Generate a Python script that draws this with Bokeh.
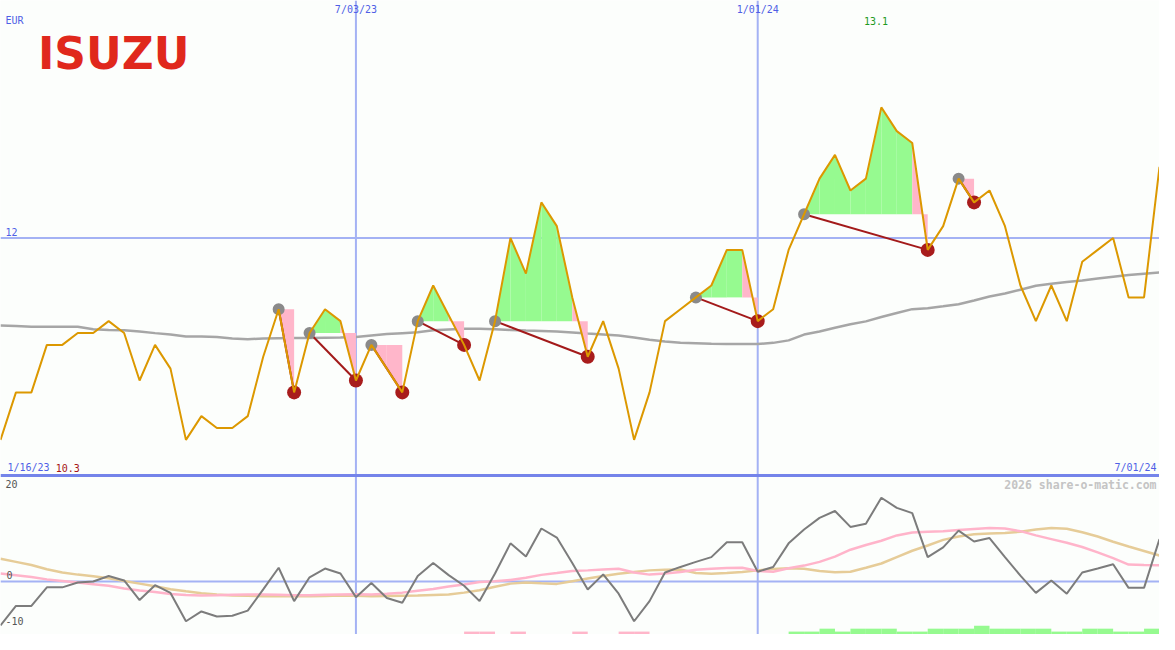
from bokeh.plotting import figure
from bokeh.models import Range1d, Span, Label
from bokeh.embed import file_html
from bokeh.resources import INLINE

# ---------------- data ----------------
weeks = list(range(76))
start_date = "1/16/23"
end_date = "7/01/24"
date_ticks = [23, 49]
date_labels = ["7/03/23", "1/01/24"]
currency = "EUR"
price_ticks = [12]
ind_ticks = [20, 0, -10]

price = [10.3, 10.7, 10.7, 11.1, 11.1, 11.2, 11.2, 11.3, 11.2, 10.8,
         11.1, 10.9, 10.3, 10.5, 10.4, 10.4, 10.5, 11.0, 11.4, 10.7,
         11.2, 11.4, 11.3, 10.8, 11.1, 10.9, 10.7, 11.3, 11.6, 11.35,
         11.1, 10.8, 11.3, 12.0, 11.7, 12.3, 12.1, 11.5, 11.0, 11.3,
         10.9, 10.3, 10.7, 11.3, 11.4, 11.5, 11.6, 11.9, 11.9, 11.3,
         11.4, 11.9, 12.2, 12.5, 12.7, 12.4, 12.5, 13.1, 12.9, 12.8,
         11.9, 12.1, 12.5, 12.3, 12.4, 12.1, 11.6, 11.3, 11.6, 11.3,
         11.8, 11.9, 12.0, 11.5, 11.5, 12.6]

moving_avg = [11.263, 11.258, 11.253, 11.253, 11.253, 11.253, 11.232, 11.226, 11.224, 11.212,
              11.199, 11.187, 11.171, 11.171, 11.166, 11.154, 11.148, 11.154, 11.156, 11.157,
              11.158, 11.160, 11.162, 11.166, 11.179, 11.191, 11.199, 11.207, 11.224, 11.230,
              11.235, 11.236, 11.232, 11.226, 11.221, 11.217, 11.212, 11.205, 11.195, 11.187,
              11.179, 11.162, 11.143, 11.129, 11.117, 11.113, 11.109, 11.107, 11.107, 11.107,
              11.117, 11.138, 11.187, 11.212, 11.244, 11.273, 11.298, 11.335, 11.368, 11.401,
              11.409, 11.425, 11.442, 11.474, 11.507, 11.532, 11.565, 11.598, 11.614, 11.630,
              11.643, 11.659, 11.674, 11.688, 11.700, 11.710]

peak_idx = [18, 20, 24, 27, 32, 45, 52, 62]
trough_idx = [19, 23, 26, 30, 38, 49, 60, 63]

momentum = [-8.3, -4.6, -4.6, -1.1, -1.1, -0.2, 0.0, 1.05, 0.2, -3.5,
            -0.7, -2.15, -7.5, -5.65, -6.6, -6.45, -5.5, -1.5, 2.6, -3.7,
            0.8, 2.45, 1.5, -2.95, -0.3, -3.1, -4.0, 1.05, 3.5, 1.2,
            -0.8, -3.7, 1.5, 7.2, 4.7, 10.0, 8.3, 3.5, -1.5, 1.35,
            -2.3, -7.5, -3.7, 1.7, 2.75, 3.7, 4.6, 7.4, 7.4, 1.85,
            2.75, 7.2, 9.8, 12.0, 13.3, 10.3, 10.9, 15.8, 13.9, 12.9,
            4.6, 6.45, 9.6, 7.55, 8.2, 4.6, 1.1, -2.15, 0.2, -2.3,
            1.7, 2.45, 3.25, -1.2, -1.2, 8.0]

signal_fast = [1.5, 1.2, 0.85, 0.4, 0.1, -0.2, -0.5, -0.8, -1.3, -1.7,
               -2.0, -2.35, -2.55, -2.64, -2.6, -2.5, -2.45, -2.45, -2.5, -2.6,
               -2.6, -2.5, -2.45, -2.4, -2.45, -2.3, -2.1, -1.75, -1.4, -0.95,
               -0.55, -0.1, 0.05, 0.3, 0.7, 1.25, 1.6, 2.0, 2.1, 2.25,
               2.4, 1.7, 1.3, 1.5, 1.8, 2.2, 2.4, 2.55, 2.6, 2.0,
               1.85, 2.5, 3.0, 3.7, 4.7, 6.0, 6.9, 7.7, 8.7, 9.25,
               9.4, 9.5, 9.7, 9.9, 10.1, 10.0, 9.5, 8.7, 8.0, 7.3,
               6.5, 5.5, 4.4, 3.2, 3.1, 3.07]

signal_slow = [4.3, 3.7, 3.1, 2.3, 1.7, 1.3, 1.0, 0.6, 0.1, -0.4,
               -0.9, -1.45, -1.85, -2.2, -2.45, -2.65, -2.7, -2.76, -2.76, -2.76,
               -2.76, -2.72, -2.66, -2.7, -2.76, -2.75, -2.7, -2.65, -2.55, -2.45,
               -2.1, -1.65, -1.0, -0.4, -0.2, -0.35, -0.45, 0.05, 0.55, 1.05,
               1.45, 1.8, 2.1, 2.2, 2.25, 1.6, 1.45, 1.6, 1.8, 2.1,
               2.35, 2.5, 2.4, 2.0, 1.75, 1.85, 2.6, 3.4, 4.6, 5.8,
               6.8, 7.85, 8.5, 8.9, 9.05, 9.15, 9.4, 9.8, 10.1, 9.95,
               9.3, 8.5, 7.5, 6.6, 5.75, 4.9]

histogram = [0, 0, 0, 0, 0, 0, 0, 0, 0, 0,
             0, 0, 0, 0, 0, 0, 0, 0, 0, 0,
             0, 0, 0, 0, 0, 0, 0, 0, 0, 0,
             -1, -1, 0, -1, 0, 0, 0, -1, 0, 0,
             -1, -1, 0, 0, 0, 0, 0, 0, 0, 0,
             0, 1, 1, 2, 1, 2, 2, 2, 1, 1,
             2, 2, 2, 3, 2, 2, 2, 2, 1, 1,
             2, 2, 1, 1, 2, 0]

# ---------------- layout ----------------
REF_W, REF_H = 1175, 650
W, H = 1159, 634
SX, SY = W / REF_W, H / REF_H
PANEL_SPLIT = 487          # reference pixel row where the two panels meet
P_TOP, P_BOT = 14.0, 10.0  # price range of the upper panel
I_TOP, I_BOT = 20.0, -10.0 # indicator range of the lower panel

p_span = (P_TOP - P_BOT) * REF_H / PANEL_SPLIT
i_span = (I_TOP - I_BOT) * REF_H / (REF_H - PANEL_SPLIT)

BG = "#fcfefc"
p = figure(width=W, height=H, output_backend="svg", toolbar_location=None,
           x_range=Range1d(weeks[0], weeks[-1]),
           y_range=Range1d(P_TOP - p_span, P_TOP),
           x_axis_type=None, y_axis_type=None, min_border=0,
           background_fill_color=BG, border_fill_color=BG,
           outline_line_color=None)
p.extra_y_ranges = {"ind": Range1d(I_BOT, I_BOT + i_span)}

GRID = "#a4b2f4"
for t in price_ticks:
    p.add_layout(Span(location=t, dimension="width", line_color=GRID,
                      line_width=2, level="underlay"))
for t in date_ticks:
    p.add_layout(Span(location=t, dimension="height", line_color=GRID,
                      line_width=2, level="underlay"))
p.add_layout(Span(location=0, dimension="width", line_color=GRID, line_width=2,
                  y_range_name="ind", level="underlay"))
p.add_layout(Span(location=P_BOT, dimension="width", line_color="#7484ea",
                  line_width=3, level="underlay"))

# ---------------- upper panel ----------------
p.line(weeks, moving_avg, line_color="#a6a6a6", line_width=2.5)

gx, gy, rx, ry = [], [], [], []
for g, r in zip(peak_idx, trough_idx):
    lvl = price[g]
    for i in range(g, r):
        xs = [weeks[i], weeks[i], weeks[i + 1], weeks[i + 1]]
        ys = [lvl, price[i], price[i + 1], lvl]
        if i == r - 1 or price[i + 1] < lvl:
            rx.append(xs); ry.append(ys)
        else:
            gx.append(xs); gy.append(ys)
p.patches(gx, gy, fill_color="#96fa90", line_color=None)
p.patches(rx, ry, fill_color="#ffb6ca", line_color=None)

p.segment(x0=[weeks[g] for g in peak_idx], y0=[price[g] for g in peak_idx],
          x1=[weeks[r] for r in trough_idx], y1=[price[r] for r in trough_idx],
          line_color="#a31a1a", line_width=2)
p.scatter([weeks[g] for g in peak_idx], [price[g] for g in peak_idx],
          size=12, fill_color="#8a8a8a", line_color=None)
p.scatter([weeks[r] for r in trough_idx], [price[r] for r in trough_idx],
          size=14, fill_color="#a81c1c", line_color=None)

p.line(weeks, price, line_color="#dc9800", line_width=2)

# ---------------- lower panel ----------------
p.line(weeks, signal_slow, line_color="#e6cc98", line_width=2.5, y_range_name="ind")
p.line(weeks, signal_fast, line_color="#ffb4ca", line_width=2.5, y_range_name="ind")
p.line(weeks, momentum, line_color="#7c7c7c", line_width=2, y_range_name="ind")

BAR_UNIT = 0.55
hl = [weeks[i] for i, h in enumerate(histogram) if h != 0]
hr = [weeks[i] + 1 for i, h in enumerate(histogram) if h != 0]
ht = [I_BOT + abs(h) * BAR_UNIT for h in histogram if h != 0]
hc = ["#96fa90" if h > 0 else "#ffb6ca" for h in histogram if h != 0]
p.quad(left=hl, right=hr, bottom=I_BOT, top=ht, fill_color=hc, line_color=None,
       y_range_name="ind")

# ---------------- texts ----------------
MONO = "DejaVu Sans Mono"
BLUE = "#4f5fe6"
BASE_SHIFT = 0.4   # rendered baseline sits this many ems below the anchor


def lab(text, x, y, color, size=10, align="left", xu="screen",
        font=MONO, style="normal"):
    xs = x * SX if xu == "screen" else x
    ytop = y * SY - BASE_SHIFT * size
    p.add_layout(Label(x=xs, y=H - ytop, x_units=xu, y_units="screen",
                       text=text, text_color=color, text_font=font,
                       text_font_size=f"{size}px", text_align=align,
                       text_baseline="alphabetic", text_font_style=style))


lab("ISUZU", 38, 72, "#e0281c", size=44, font="DejaVu Sans", style="bold")
lab(currency, 5, 25, BLUE)
for t, s in zip(date_ticks, date_labels):
    lab(s, weeks[t], 13, BLUE, align="center", xu="data")
imax = price.index(max(price))
lab(f"{max(price):.1f}", weeks[imax] - 0.35, 25, "#1f9a1f", align="center", xu="data")
lab(str(price_ticks[0]), 5, 241, BLUE)
lab(start_date, 7, 483, BLUE)
lab(f"{min(price):.1f}", 56, 483, "#a51515")
lab(end_date, 1172, 483, BLUE, align="right")
lab("2026 share-o-matic.com", 1172, 501, "#c4c4c4", size=11.5,
    align="right", style="bold")
lab(str(ind_ticks[0]), 5, 500, "#555555")
lab(str(ind_ticks[1]), 6, 593, "#555555")
lab(str(ind_ticks[2]), 5, 640, "#555555")

open("out.html", "w").write(file_html(p, INLINE))
